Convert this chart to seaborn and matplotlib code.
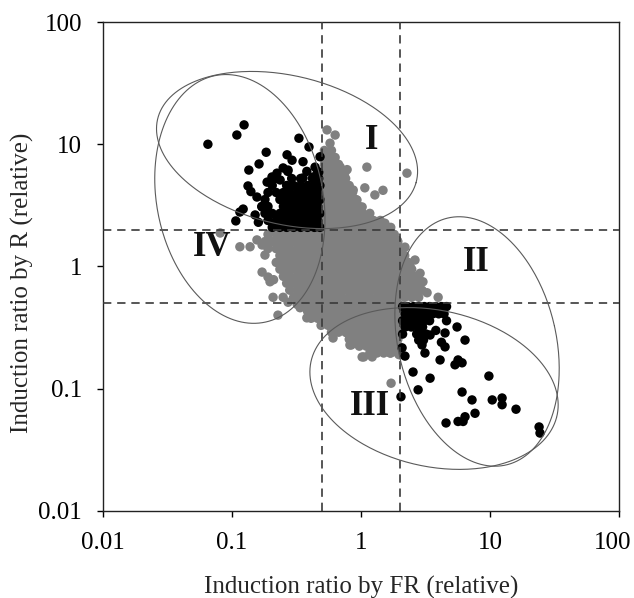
import numpy as np
import pandas as pd
import matplotlib
matplotlib.use("Agg")
import matplotlib.pyplot as plt
import matplotlib.transforms as mtransforms
import seaborn as sns
from matplotlib.ticker import NullLocator

# ---- data (induction ratios, relative) ----
# dense grey cloud, one row per R level
gray_core_r = [8.9, 7.8, 6.85, 6.0, 5.25, 4.6, 4.03, 3.53, 3.1, 2.72, 2.38, 2.09,
               1.83, 1.6, 1.4, 1.23, 1.08, 0.95, 0.83, 0.73, 0.64, 0.56,
               0.49, 0.43, 0.377, 0.33, 0.29, 0.254, 0.223, 0.196]
gray_core_fr = [
    [0.52, 0.59],
    [0.51, 0.555, 0.63],
    [0.52, 0.59, 0.67],
    [0.51, 0.555, 0.63, 0.71],
    [0.52, 0.59, 0.67, 0.76],
    [0.51, 0.555, 0.63, 0.71, 0.81],
    [0.52, 0.59, 0.67, 0.76, 0.86],
    [0.51, 0.555, 0.63, 0.71, 0.81, 0.91],
    [0.52, 0.59, 0.67, 0.76, 0.86, 0.97],
    [0.51, 0.555, 0.63, 0.71, 0.81, 0.91, 1.03, 1.17],
    [0.52, 0.59, 0.67, 0.76, 0.86, 0.97, 1.1, 1.25, 1.41],
    [0.51, 0.555, 0.63, 0.71, 0.81, 0.91, 1.03, 1.17, 1.33, 1.5, 1.7],
    [0.19, 0.22, 0.25, 0.28, 0.32, 0.36, 0.41, 0.46, 0.52, 0.59, 0.67, 0.76, 0.86, 0.97,
     1.1, 1.25, 1.41, 1.6, 1.81],
    [0.18, 0.205, 0.235, 0.265, 0.3, 0.34, 0.385, 0.435, 0.49, 0.555, 0.63, 0.71, 0.81,
     0.91, 1.03, 1.17, 1.33, 1.5, 1.7, 1.93],
    [0.19, 0.22, 0.25, 0.28, 0.32, 0.36, 0.41, 0.46, 0.52, 0.59, 0.67, 0.76, 0.86, 0.97,
     1.1, 1.25, 1.41, 1.6, 1.81, 2.05],
    [0.235, 0.265, 0.3, 0.34, 0.385, 0.435, 0.49, 0.555, 0.63, 0.71, 0.81, 0.91, 1.03,
     1.17, 1.33, 1.5, 1.7, 1.93, 2.18],
    [0.22, 0.25, 0.28, 0.32, 0.36, 0.41, 0.46, 0.52, 0.59, 0.67, 0.76, 0.86, 0.97, 1.1,
     1.25, 1.41, 1.6, 1.81, 2.05, 2.32],
    [0.235, 0.265, 0.3, 0.34, 0.385, 0.435, 0.49, 0.555, 0.63, 0.71, 0.81, 0.91, 1.03,
     1.17, 1.33, 1.5, 1.7, 1.93, 2.18, 2.47],
    [0.25, 0.28, 0.32, 0.36, 0.41, 0.46, 0.52, 0.59, 0.67, 0.76, 0.86, 0.97, 1.1, 1.25,
     1.41, 1.6, 1.81, 2.05, 2.32, 2.62],
    [0.265, 0.3, 0.34, 0.385, 0.435, 0.49, 0.555, 0.63, 0.71, 0.81, 0.91, 1.03, 1.17,
     1.33, 1.5, 1.7, 1.93, 2.18, 2.47, 2.8],
    [0.28, 0.32, 0.36, 0.41, 0.46, 0.52, 0.59, 0.67, 0.76, 0.86, 0.97, 1.1, 1.25, 1.41,
     1.6, 1.81, 2.05, 2.32, 2.62, 2.97],
    [0.3, 0.34, 0.385, 0.435, 0.49, 0.555, 0.63, 0.71, 0.81, 0.91, 1.03, 1.17, 1.33, 1.5,
     1.7, 1.93, 2.18, 2.47, 2.8],
    [0.32, 0.36, 0.41, 0.46, 0.52, 0.59, 0.67, 0.76, 0.86, 0.97, 1.1, 1.25, 1.41, 1.6,
     1.81, 1.96],
    [0.385, 0.435, 0.49, 0.555, 0.63, 0.71, 0.81, 0.91, 1.03, 1.17, 1.33, 1.5, 1.7, 1.93],
    [0.41, 0.46, 0.52, 0.59, 0.67, 0.76, 0.86, 0.97, 1.1, 1.25, 1.41, 1.6, 1.81, 1.96],
    [0.49, 0.555, 0.63, 0.71, 0.81, 0.91, 1.03, 1.17, 1.33, 1.5, 1.7, 1.93],
    [0.59, 0.67, 0.76, 0.86, 0.97, 1.1, 1.25, 1.41, 1.6, 1.81, 1.96],
    [0.81, 0.91, 1.03, 1.17, 1.33, 1.5, 1.7, 1.93],
    [0.97, 1.1, 1.25, 1.41, 1.6, 1.81, 1.96],
    [1.17, 1.33, 1.5, 1.7, 1.93],
]
# loose grey points around the cloud
gray_fr = [0.545, 0.63, 0.575, 0.525, 0.69, 0.75, 1.11, 2.27, 0.78, 1.07, 1.28, 1.48,
           0.87, 0.93, 1.02, 1.48, 1.9, 2.19, 2.62, 2.87, 3.02, 1.53, 1.83, 2.0, 2.4,
           2.77, 3.25, 3.96, 0.081, 0.115, 0.138, 0.156, 0.171, 0.171, 0.18, 0.19, 0.21,
           0.197, 0.208, 0.227, 0.249, 0.272, 0.337, 0.38, 0.607, 0.82, 1.17, 1.02, 1.22,
           1.68, 1.71, 0.545, 0.78, 0.84, 1.05, 1.97]
gray_r = [13.1, 11.9, 10.2, 8.5, 6.5, 5.9, 6.5, 5.8, 6.2, 4.4, 3.85, 4.2,
          4.22, 3.5, 3.07, 2.18, 1.65, 1.44, 1.13, 0.88, 0.75, 2.26, 1.44, 1.17, 1.0,
          0.81, 0.61, 0.56, 1.88, 1.45, 1.45, 1.65, 0.9, 1.5, 1.24, 0.82, 0.78,
          0.75, 0.56, 0.4, 0.56, 0.51, 0.46, 0.38, 0.26, 0.228, 0.228, 0.182, 0.182,
          0.196, 0.111, 0.345, 0.286, 0.228, 0.182, 0.19]

# black: upper-left group (FR < 0.5, R > 2)
black_core_r = [6.0, 5.25, 4.6, 4.03, 3.53, 3.1, 2.72, 2.38, 2.09]
black_core_fr = [
    [0.27, 0.38, 0.46],
    [0.22, 0.29, 0.34, 0.42, 0.47],
    [0.205, 0.265, 0.3, 0.34, 0.385, 0.435, 0.48],
    [0.19, 0.22, 0.25, 0.28, 0.32, 0.36, 0.41, 0.46],
    [0.18, 0.235, 0.265, 0.3, 0.34, 0.385, 0.435, 0.48],
    [0.17, 0.19, 0.25, 0.28, 0.32, 0.36, 0.41, 0.46],
    [0.18, 0.205, 0.235, 0.265, 0.3, 0.34, 0.385, 0.435, 0.48],
    [0.19, 0.22, 0.25, 0.28, 0.32, 0.36, 0.41, 0.46],
    [0.205, 0.235, 0.265, 0.3, 0.34, 0.385, 0.435, 0.48],
]
black_up_fr = [0.065, 0.109, 0.124, 0.33, 0.395, 0.184, 0.162, 0.135, 0.267, 0.292, 0.355,
               0.44, 0.481, 0.133, 0.122, 0.107, 0.204, 0.187, 0.223, 0.249, 0.355, 0.425,
               0.272, 0.236, 0.156, 0.171, 0.151, 0.115, 0.14, 0.16, 0.47]
black_up_r = [10.0, 11.9, 14.4, 11.2, 9.5, 8.6, 6.9, 6.15, 8.2, 7.4, 7.2,
              6.5, 7.9, 4.56, 2.95, 2.36, 5.4, 4.9, 5.8, 6.4, 5.3, 5.4,
              6.15, 5.1, 3.7, 3.07, 2.64, 2.79, 4.1, 2.3, 5.9]

# black: lower-right group (FR > 2, R < 0.5)
black_low_core_r = [0.47, 0.41, 0.36, 0.32, 0.28, 0.25]
black_low_core_fr = [
    [2.1, 2.3, 2.55, 2.8, 3.1, 3.4, 3.8, 4.2, 4.6],
    [2.2, 2.45, 2.7, 2.95, 3.25, 3.6, 4.0, 4.4],
    [2.1, 2.3, 2.55, 2.8, 3.1, 3.4, 4.6],
    [2.2, 2.45, 2.8, 3.0],
    [2.1, 2.7, 2.95, 3.2],
    [2.8, 3.05],
]
black_low_fr = [4.48, 5.55, 3.43, 4.48, 6.4, 2.97, 3.13, 4.1, 5.65, 5.35, 6.07, 2.08,
                2.19, 2.53, 3.43, 2.77, 2.04, 9.8, 6.07, 7.25, 10.4, 12.4, 12.4, 15.9,
                7.65, 6.4, 5.65, 6.18, 4.56, 24.0, 24.4, 4.2, 3.8]
black_low_r = [0.286, 0.32, 0.275, 0.22, 0.25, 0.228, 0.196, 0.172, 0.172, 0.157, 0.163,
               0.216, 0.185, 0.137, 0.122, 0.098, 0.086, 0.127, 0.094, 0.081, 0.081, 0.084,
               0.074, 0.068, 0.063, 0.059, 0.054, 0.054, 0.0525, 0.0487, 0.0434, 0.24, 0.3]

# hand-drawn ellipses (centre, half axes in decades, tilt in degrees) and their labels
ell_fr = [0.267, 7.93, 3.68, 0.115]
ell_r = [8.97, 0.2436, 0.1005, 3.57]
ell_a = [1.035, 0.613, 0.979, 0.645]
ell_b = [0.605, 1.035, 0.637, 1.027]
ell_angle = [-15, 12, -14, 10]
region_labels = ["I", "II", "III", "IV"]
label_fr = [1.2, 7.79, 1.17, 0.07]
label_r = [10.8, 1.07, 0.071, 1.42]

cut_low, cut_high = 0.5, 2.0


def expand(rows_r, rows_fr):
    fr, r = [], []
    for y, xs in zip(rows_r, rows_fr):
        fr += xs
        r += [y] * len(xs)
    return fr, r


g_fr, g_r = expand(gray_core_r, gray_core_fr)
bu_fr, bu_r = expand(black_core_r, black_core_fr)
bl_fr, bl_r = expand(black_low_core_r, black_low_core_fr)

df = pd.concat([
    pd.DataFrame({"fr": g_fr + gray_fr, "r": g_r + gray_r, "group": "other"}),
    pd.DataFrame({"fr": bu_fr + black_up_fr + bl_fr + black_low_fr,
                  "r": bu_r + black_up_r + bl_r + black_low_r, "group": "selected"}),
], ignore_index=True)

sns.set_style("ticks")
plt.rcParams["font.family"] = ["Liberation Serif", "DejaVu Serif"]

fig = plt.figure(figsize=(6.34, 5.98), dpi=100)
ax = fig.add_axes([0.1625, 0.1455, 0.8139, 0.8177])

sns.scatterplot(data=df, x="fr", y="r", hue="group",
                palette={"other": "#808080", "selected": "#000000"},
                s=46, linewidth=0, alpha=1, legend=False, ax=ax, zorder=2)

ax.set_xscale("log")
ax.set_yscale("log")
ax.set_xlim(0.01, 100)
ax.set_ylim(0.01, 100)

for v in (cut_low, cut_high):
    ax.axvline(v, color="#3a3a3a", lw=1.2, dashes=(5, 3.5), zorder=4)
    ax.axhline(v, color="#3a3a3a", lw=1.2, dashes=(5, 3.5), zorder=4)

t = np.linspace(0, 2 * np.pi, 300)
for cx, cy, a, b, ang in zip(ell_fr, ell_r, ell_a, ell_b, ell_angle):
    th = np.deg2rad(ang)
    u, v = a * np.cos(t), b * np.sin(t)
    lx = np.log10(cx) + u * np.cos(th) - v * np.sin(th)
    ly = np.log10(cy) + u * np.sin(th) + v * np.cos(th)
    ax.plot(10 ** lx, 10 ** ly, color="#5a5a5a", lw=0.8, zorder=4)

for txt, x, y in zip(region_labels, label_fr, label_r):
    ax.text(x, y, txt, ha="center", va="center", fontsize=25, fontweight="bold",
            color="#111111", zorder=5)

ticks = [0.01, 0.1, 1, 10, 100]
tick_labels = ["0.01", "0.1", "1", "10", "100"]
ax.set_xticks(ticks)
ax.set_xticklabels(tick_labels)
ax.set_yticks(ticks)
ax.set_yticklabels(tick_labels)
ax.xaxis.set_minor_locator(NullLocator())
ax.yaxis.set_minor_locator(NullLocator())
ax.tick_params(direction="out", length=4, width=1, labelsize=18, colors="#000000",
               pad=11, top=False, right=False)
# the last x label sits slightly inside the frame, as in the original
last = ax.get_xticklabels()[-1]
last.set_transform(last.get_transform() +
                   mtransforms.ScaledTranslation(-6 / 100, 0, fig.dpi_scale_trans))
for sp in ax.spines.values():
    sp.set_visible(True)
    sp.set_color("#222222")
    sp.set_linewidth(1.0)

ax.set_xlabel("Induction ratio by FR (relative)", fontsize=18)
ax.set_ylabel("Induction ratio by R (relative)", fontsize=18)
ax.xaxis.set_label_coords(0.5, -0.132)
ax.yaxis.set_label_coords(-0.134, 0.466)

fig.savefig("out.png", dpi=100)
